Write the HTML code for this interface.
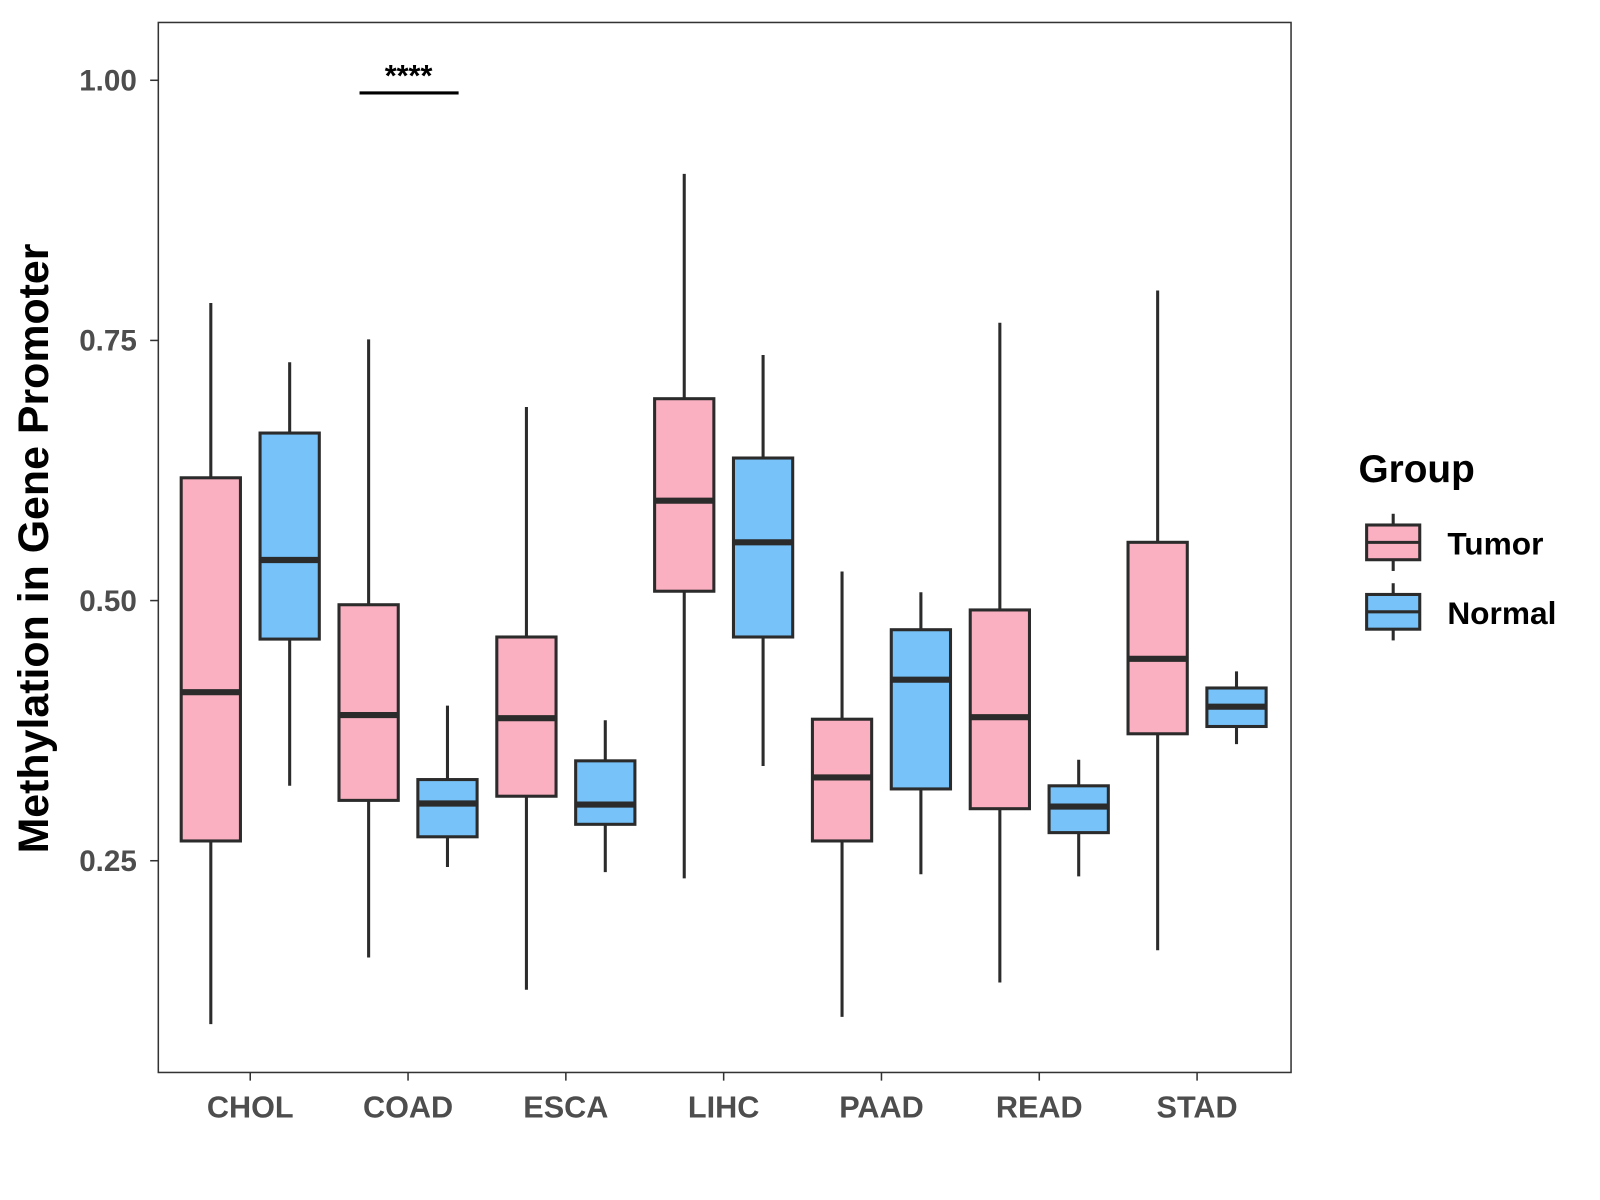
<!DOCTYPE html>
<html><head><meta charset="utf-8"><style>
html,body{margin:0;padding:0;background:#fff;}
svg{display:block;font-family:"Liberation Sans",Arial,sans-serif;}
</style></head><body>
<svg id="chart" width="1600" height="1200" viewBox="0 0 1600 1200">
<rect x="0" y="0" width="1600" height="1200" fill="#fff"/>
<g transform="scale(1.0214)">
<rect x="155" y="22" width="1109" height="1028" fill="none" stroke="#333" stroke-width="1.5"/>
<g id="marks"></g>
<g id="axes"></g>
<text x="36" y="537" transform="rotate(-90 36 537)" text-anchor="middle" dominant-baseline="middle" font-size="42" font-weight="bold" fill="#000">Methylation in Gene Promoter</text>
<g>
<line x1="352" y1="91" x2="449" y2="91" stroke="#000" stroke-width="3"/>
<text x="400" y="84" text-anchor="middle" font-size="30" font-weight="bold">****</text>
</g>
<g>
<text x="1330" y="472" font-size="38" font-weight="bold">Group</text>
<g>
<line x1="1364" y1="503" x2="1364" y2="559" stroke="#2b2b2b" stroke-width="3"/>
<rect x="1338" y="514" width="52" height="34" fill="#fbb0c1" stroke="#2b2b2b" stroke-width="3"/>
<line x1="1338" y1="531" x2="1390" y2="531" stroke="#2b2b2b" stroke-width="3"/>
<text x="1417" y="543" font-size="31" font-weight="bold">Tumor</text>
</g>
<g>
<line x1="1364" y1="571" x2="1364" y2="627" stroke="#2b2b2b" stroke-width="3"/>
<rect x="1338" y="582" width="52" height="34" fill="#76c2f9" stroke="#2b2b2b" stroke-width="3"/>
<line x1="1338" y1="599" x2="1390" y2="599" stroke="#2b2b2b" stroke-width="3"/>
<text x="1417" y="611" font-size="31" font-weight="bold">Normal</text>
</g>
</g>
</g>
</svg>
<script>
const categories = ["CHOL","COAD","ESCA","LIHC","PAAD","READ","STAD"];
// [max, q3, median, q1, min]
const tumorStats = [
 [0.786,0.618,0.412,0.269,0.093],
 [0.751,0.496,0.390,0.308,0.157],
 [0.686,0.465,0.387,0.312,0.126],
 [0.910,0.694,0.596,0.509,0.233],
 [0.528,0.386,0.330,0.269,0.100],
 [0.767,0.491,0.388,0.300,0.133],
 [0.798,0.556,0.444,0.372,0.164]
];
const normalStats = [
 [0.729,0.661,0.539,0.463,0.322],
 [0.399,0.328,0.305,0.273,0.244],
 [0.385,0.346,0.304,0.285,0.239],
 [0.736,0.637,0.556,0.465,0.341],
 [0.508,0.472,0.424,0.319,0.237],
 [0.347,0.322,0.302,0.277,0.235],
 [0.432,0.416,0.398,0.379,0.362]
];
const yTicks = [0.25,0.50,0.75,1.00];
const yTickLabels = ["0.25","0.50","0.75","1.00"];

const NS="http://www.w3.org/2000/svg";
function y(v){return 588-(v-0.5)*1018.8;}
function x(i){return 245+i*154.5;}
const marks=document.getElementById('marks');
const axes=document.getElementById('axes');
function mk(tag,attrs,parent){const e=document.createElementNS(NS,tag);for(const k in attrs)e.setAttribute(k,attrs[k]);parent.appendChild(e);return e;}
function drawBox(cx,s,fill,name){
  const g=mk('g',{},marks);
  
  
  mk('line',{x1:cx,x2:cx,y1:y(s[0]),y2:y(s[4]),stroke:'#2b2b2b','stroke-width':3},g);
  mk('rect',{x:cx-29,y:y(s[1]),width:58,height:y(s[3])-y(s[1]),fill:fill,stroke:'#2b2b2b','stroke-width':3},g);
  mk('line',{x1:cx-29,x2:cx+29,y1:y(s[2]),y2:y(s[2]),stroke:'#2b2b2b','stroke-width':6},g);
}
categories.forEach((c,i)=>{
  drawBox(x(i)-38.6,tumorStats[i],'#fbb0c1','box-'+c.toLowerCase()+'-tumor');
  drawBox(x(i)+38.6,normalStats[i],'#76c2f9','box-'+c.toLowerCase()+'-normal');
  mk('line',{x1:x(i),x2:x(i),y1:1050,y2:1058,stroke:'#333','stroke-width':1.5},axes);
  const t=mk('text',{x:x(i),y:1094,'text-anchor':'middle','font-size':30,'font-weight':'bold',fill:'#4d4d4d'},axes);
  t.textContent=c;
  
  
});
yTicks.forEach((v,i)=>{
  mk('line',{x1:147,x2:155,y1:y(v),y2:y(v),stroke:'#333','stroke-width':1.5},axes);
  const t=mk('text',{x:134,y:y(v)+10,'text-anchor':'end','font-size':29,'font-weight':'bold',fill:'#4d4d4d'},axes);
  t.textContent=yTickLabels[i];
  
  
});
</script>
</body></html>
